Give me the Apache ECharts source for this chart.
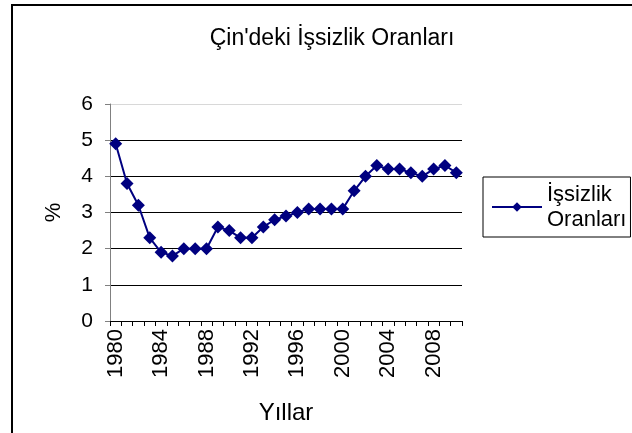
<!DOCTYPE html>
<html>
<head>
<meta charset="utf-8">
<script src="https://cdn.jsdelivr.net/npm/echarts@6/dist/echarts.min.js"></script>
<style>
	html,body{margin:0;padding:0;background:#fff;}
	#chart{width:632px;height:433px;}
</style>
</head>
<body>
<div id="chart"></div>
<script>
	// yillar ve issizlik oranlari
	var years = [];
	for (var y = 1980; y <= 2010; y++) years.push(String(y));
	var rates = [4.9, 3.8, 3.2, 2.3, 1.9, 1.8, 2.0, 2.0, 2.0, 2.6,
		2.5, 2.3, 2.3, 2.6, 2.8, 2.9, 3.0, 3.1, 3.1, 3.1,
		3.1, 3.6, 4.0, 4.3, 4.2, 4.2, 4.1, 4.0, 4.2, 4.3, 4.1];
	var seriesName = 'İşsizlik\nOranları';
	var titleText = "Çin'deki İşsizlik Oranları";

	var font = 'Liberation Sans, Arial, sans-serif';
	var chart = echarts.init(document.getElementById('chart'));
	chart.setOption({
		animation: false,
		textStyle: {fontFamily: font},
		title: {
			text: titleText,
			left: 327,
			textAlign: 'center',
			top: 22,
			textStyle: {fontSize: 23, fontWeight: 'normal', color: '#000', fontFamily: font}
		},
		graphic: [{
			type: 'rect',
			shape: {x: 12, y: 5, width: 700, height: 500},
			style: {fill: 'none', stroke: '#000', lineWidth: 2},
			silent: true
		}],
		legend: {
			data: [seriesName],
			left: 483,
			top: 177,
			orient: 'vertical',
			padding: [5, 4, 5, 8],
			borderColor: '#000',
			borderWidth: 1,
			itemWidth: 50,
			itemHeight: 12,
			textStyle: {fontSize: 22, color: '#000', lineHeight: 25, fontFamily: font}
		},
		grid: {left: 110, right: 170, top: 104, bottom: 112},
		xAxis: {
			type: 'category',
			data: years,
			boundaryGap: true,
			name: 'Yıllar',
			nameLocation: 'middle',
			nameGap: 80,
			nameTextStyle: {fontSize: 24, color: '#000'},
			axisLine: {lineStyle: {color: '#000', width: 1}},
			axisTick: {show: true, interval: 0, length: 5, lineStyle: {color: '#000'}},
			axisLabel: {interval: 3, rotate: 90, margin: 8, fontSize: 22, color: '#000'}
		},
		yAxis: {
			type: 'value',
			min: 0,
			max: 6,
			interval: 1,
			name: '%',
			nameLocation: 'middle',
			nameGap: 45,
			nameRotate: 90,
			nameTextStyle: {fontSize: 22, color: '#000'},
			axisLine: {show: true, lineStyle: {color: '#808080'}},
			axisTick: {show: true, length: 5, lineStyle: {color: '#808080'}},
			axisLabel: {margin: 17, fontSize: 21, color: '#000'},
			splitLine: {show: true, lineStyle: {color: ['#000', '#000', '#000', '#000', '#000', '#000', '#d8d8d8'], width: 1}}
		},
		series: [{
			name: seriesName,
			type: 'line',
			data: rates,
			symbol: 'diamond',
			symbolSize: 13,
			showAllSymbol: true,
			itemStyle: {color: '#000080'},
			lineStyle: {color: '#000080', width: 2}
		}]
	});
</script>
</body>
</html>
